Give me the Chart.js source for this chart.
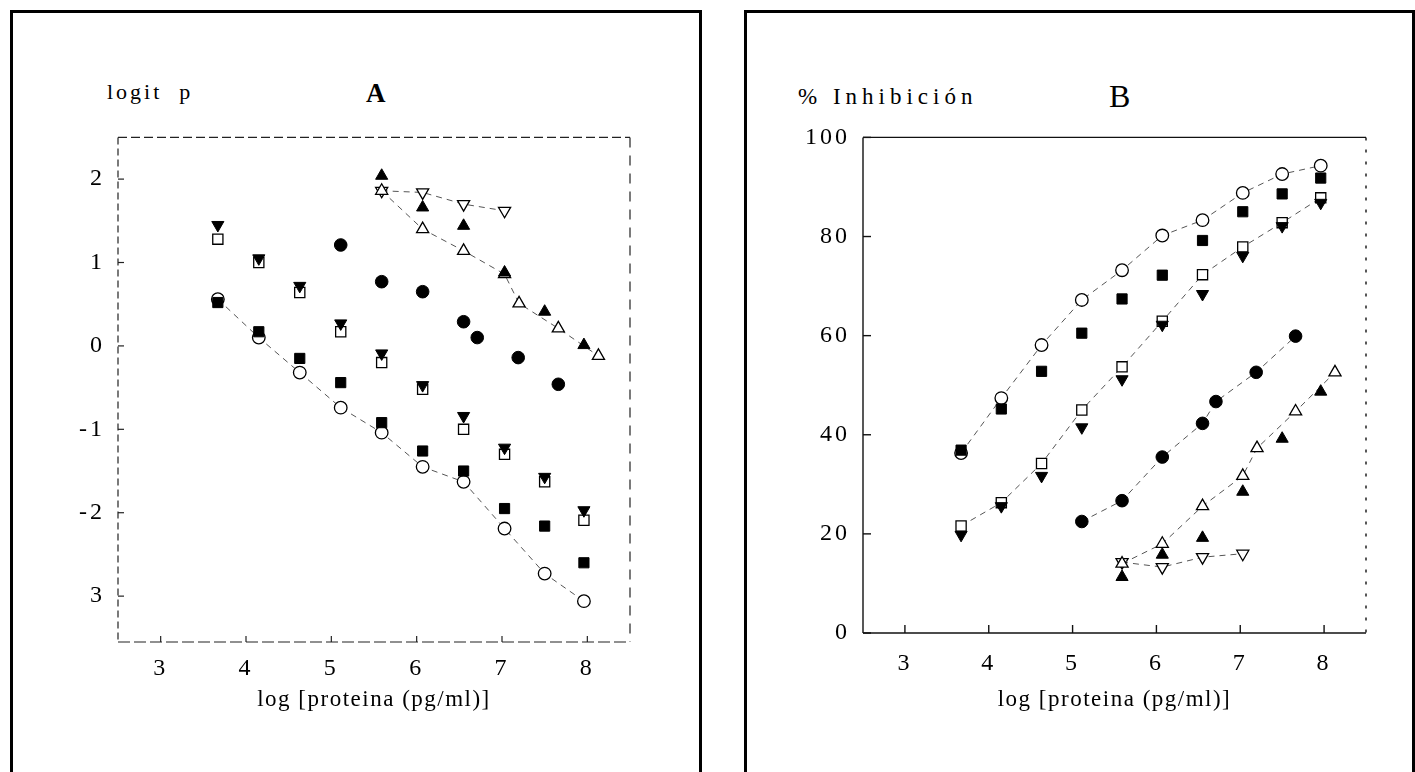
<!DOCTYPE html>
<html lang="es">
<head>
<meta charset="UTF-8">
<title>logit p / % Inhibición</title>
<script src="https://cdn.jsdelivr.net/npm/chart.js@4"></script>
<style>
  body { margin: 0; background: #fff; width: 1415px; height: 772px; overflow: hidden; position: relative;
         font-family: "Liberation Serif", serif; color: #000; }
  .panel { position: absolute; top: 10px; height: 800px; border: 3px solid #000; box-sizing: border-box; }
  .lbl { position: absolute; white-space: nowrap; line-height: 1; }
  canvas { position: absolute; }
</style>
</head>
<body>
<div class="panel" style="left:10px;width:692px"></div>
<div class="panel" style="left:744px;width:671px"></div>

<div class="lbl" style="left:107px;top:81px;font-size:22px;letter-spacing:3px">logit&nbsp;&nbsp;p</div>
<div class="lbl" style="left:366px;top:80px;font-size:27px;font-weight:bold">A</div>
<div class="lbl" style="left:798px;top:85px;font-size:23px;letter-spacing:5px">% Inhibición</div>
<div class="lbl" style="left:1109px;top:80px;font-size:32px">B</div>

<canvas id="chartA" width="680" height="620" style="left:20px;top:110px"></canvas>
<canvas id="chartB" width="650" height="620" style="left:760px;top:110px"></canvas>

<script>
// log [proteina] positions
const logDose = [3.67, 4.15, 4.63, 5.11, 5.59, 6.07, 6.55, 7.03, 7.5, 7.96];
const logDoseCircle = [5.11, 5.59, 6.07, 6.55, 6.71, 7.19, 7.66];
const logDoseTriUp = [5.59, 6.07, 6.55, 7.03, 7.2, 7.66, 8.13];
const logDoseTriUpFill = [5.59, 6.07, 6.55, 7.03, 7.5, 7.96];
const logDoseTriDown = [5.59, 6.07, 6.55, 7.03];

// panel A: logit p
const openCircleA = [0.56, 0.10, -0.32, -0.74, -1.04, -1.45, -1.63, -2.19, -2.73, -3.06];
const filledSquareA = [0.52, 0.17, -0.15, -0.44, -0.92, -1.26, -1.50, -1.95, -2.16, -2.60];
const openSquareA = [1.28, 1.00, 0.64, 0.17, -0.20, -0.52, -1.00, -1.30, -1.63, -2.09];
const filledTriDownA = [1.45, 1.05, 0.72, 0.27, -0.09, -0.47, -0.84, -1.22, -1.57, -1.97];
const filledCircleA = [1.21, 0.77, 0.65, 0.29, 0.10, -0.14, -0.46];
const openTriUpA = [1.86, 1.40, 1.14, 0.86, 0.51, 0.21, -0.12];
const filledTriUpA = [2.04, 1.66, 1.44, 0.88, 0.41, 0.01];
const openTriDownA = [1.86, 1.84, 1.70, 1.62];

// panel B: % inhibicion
const openCircleB = [36.3, 47.4, 58.1, 67.2, 73.2, 80.2, 83.3, 88.8, 92.6, 94.3];
const filledSquareB = [36.9, 45.2, 52.8, 60.5, 67.4, 72.2, 79.2, 85.0, 88.6, 91.8];
const openSquareB = [21.6, 26.3, 34.2, 45.0, 53.7, 62.9, 72.3, 77.9, 82.8, 87.8];
const filledTriDownB = [19.8, 25.6, 31.7, 41.5, 51.2, 62.2, 68.4, 76.1, 82.1, 86.8];
const filledCircleB = [22.5, 26.7, 35.5, 42.3, 46.7, 52.6, 59.9];
const openTriUpB = [14.0, 18.0, 25.6, 31.7, 37.3, 44.7, 52.6];
const filledTriUpB = [11.3, 15.8, 19.2, 28.5, 39.2, 48.7];
const openTriDownB = [14.3, 13.3, 15.3, 16.0];

// ticks
const xTicks = [3, 4, 5, 6, 7, 8];
const yTicksA = [-3, -2, -1, 0, 1, 2];
const yLabelsA = ['3', '-2', '-1', '0', '1', '2'];
const yTicksB = [0, 20, 40, 60, 80, 100];
const xTitle = 'log [proteina (pg/ml)]';

const FONT = "'Liberation Serif', serif";

function series(xs, ys, shape, filled, line) {
    return {
        data: xs.map((x, i) => ({ x: x, y: ys[i] })),
        pointStyle: shape === 'down' ? 'triangle' : shape,
        rotation: shape === 'down' ? 180 : 0,
        pointRadius: shape === 'circle' ? 6.3 : (shape === 'rect' ? 7.2 : 7),
        pointBackgroundColor: filled ? '#000' : '#fff',
        pointBorderColor: '#000',
        pointBorderWidth: filled ? 1 : 1.3,
        showLine: line,
        borderColor: '#555',
        borderWidth: 1,
        borderDash: [6, 5],
        fill: false
    };
}

// plot frame + inward tick marks
const frame = {
    id: 'frame',
    beforeDatasetsDraw(chart, args, o) {
        const { left, right, top, bottom } = chart.chartArea;
        const ctx = chart.ctx;
        ctx.save();
        ctx.strokeStyle = o.color;
        ctx.lineWidth = o.width;
        const seg = (x1, y1, x2, y2, dash) => {
            ctx.setLineDash(dash);
            ctx.beginPath(); ctx.moveTo(x1, y1); ctx.lineTo(x2, y2); ctx.stroke();
        };
        seg(left, top, right, top, o.top);
        seg(left, top, left, bottom, o.left);
        seg(left, bottom, right, bottom, o.bottom);
        seg(right, top, right, bottom, o.right);
        const xs = chart.scales.x, ys = chart.scales.y;
        xs.ticks.forEach(t => { const p = xs.getPixelForValue(t.value); seg(p, bottom, p, bottom - o.tick, []); });
        ys.ticks.forEach(t => { const p = ys.getPixelForValue(t.value); seg(left, p, left + o.tick, p, []); });
        ctx.restore();
    }
};

// wide letter spacing like the original typesetting
const spacing = {
    id: 'spacing',
    beforeDraw(c, a, o) { c.ctx.letterSpacing = o.title; },
    afterDatasetsDraw(c, a, o) { c.ctx.letterSpacing = o.ticks; },
    afterDraw(c) { c.ctx.letterSpacing = '0px'; }
};

function makeChart(id, datasets, cfg) {
    return new Chart(document.getElementById(id), {
        type: 'scatter',
        data: { datasets: datasets },
        options: {
            responsive: false,
            animation: false,
            events: [],
            layout: { padding: cfg.padding },
            plugins: {
                legend: { display: false },
                tooltip: { enabled: false },
                frame: cfg.frame,
                spacing: { title: '1.5px', ticks: '3px' }
            },
            scales: {
                x: {
                    type: 'linear', min: 2.5, max: 8.5,
                    grid: { display: false, drawTicks: false },
                    border: { display: false },
                    afterBuildTicks: s => { s.ticks = xTicks.map(v => ({ value: v })); },
                    afterFit: s => { s.height = cfg.xHeight; },
                    ticks: { z: 1, padding: cfg.xPad, color: '#000', font: { family: FONT, size: 24 },
                             maxRotation: 0, callback: v => String(v) },
                    title: { display: true, text: xTitle, color: '#000',
                             font: { family: FONT, size: 23 }, padding: { top: 0, bottom: 16 } }
                },
                y: {
                    type: 'linear', min: cfg.yMin, max: cfg.yMax,
                    grid: { display: false, drawTicks: false },
                    border: { display: false },
                    afterBuildTicks: s => { s.ticks = cfg.yTicks.map(v => ({ value: v })); },
                    afterFit: s => { s.width = cfg.yWidth; },
                    ticks: { z: 1, padding: cfg.yPad, color: '#000', font: { family: FONT, size: 24 },
                             callback: cfg.yLabel }
                }
            }
        },
        plugins: [frame, spacing]
    });
}

makeChart('chartA', [
    series(logDose, filledSquareA, 'rect', true, false),
    series(logDose, filledTriDownA, 'down', true, false),
    series(logDoseCircle, filledCircleA, 'circle', true, false),
    series(logDoseTriUpFill, filledTriUpA, 'triangle', true, false),
    series(logDose, openCircleA, 'circle', false, true),
    series(logDose, openSquareA, 'rect', false, false),
    series(logDoseTriUp, openTriUpA, 'triangle', false, true),
    series(logDoseTriDown, openTriDownA, 'down', false, true)
], {
    padding: { left: 0, right: 70, top: 20, bottom: 0 },
    xHeight: 88, yWidth: 98, xPad: 12, yPad: 13,
    yMin: -3.55, yMax: 2.5, yTicks: yTicksA,
    yLabel: v => yLabelsA[yTicksA.indexOf(v)],
    frame: { color: '#222', width: 1.2, top: [9, 4], left: [7, 4], bottom: [12, 4], right: [10, 8], tick: 6 }
});

makeChart('chartB', [
    series(logDose, filledSquareB, 'rect', true, false),
    series(logDose, filledTriDownB, 'down', true, false),
    series(logDoseCircle, filledCircleB, 'circle', true, true),
    series(logDoseTriUpFill, filledTriUpB, 'triangle', true, false),
    series(logDose, openCircleB, 'circle', false, true),
    series(logDose, openSquareB, 'rect', false, true),
    series(logDoseTriUp, openTriUpB, 'triangle', false, true),
    series(logDoseTriDown, openTriDownB, 'down', false, true)
], {
    padding: { left: 0, right: 44, top: 25, bottom: 0 },
    xHeight: 97, yWidth: 103, xPad: 16, yPad: 13,
    yMin: 0, yMax: 100, yTicks: yTicksB,
    yLabel: v => String(v),
    frame: { color: '#111', width: 1.4, top: [], left: [], bottom: [], right: [3, 9], tick: 8 }
});
</script>
</body>
</html>
